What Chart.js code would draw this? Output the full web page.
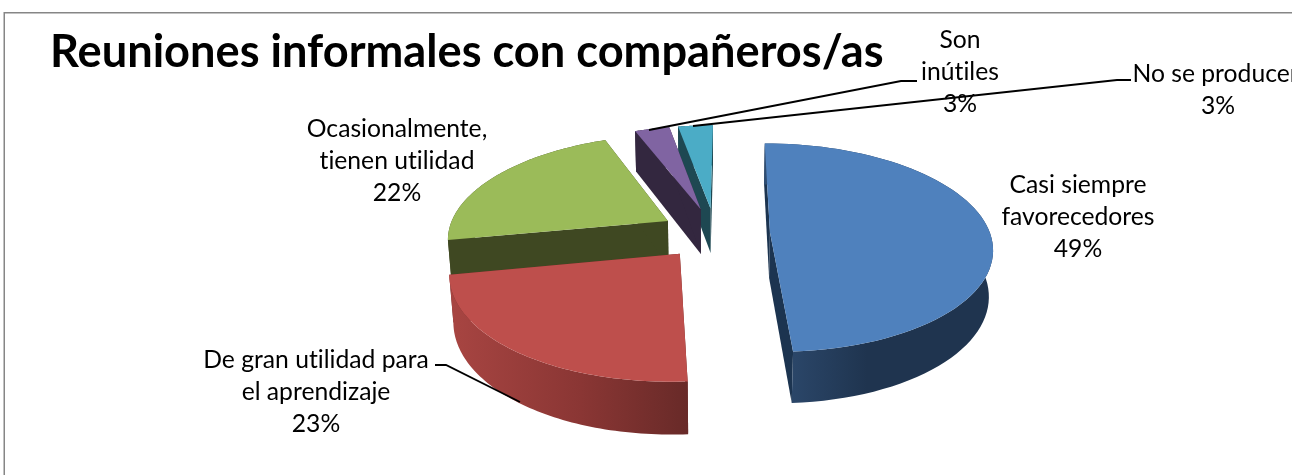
<!DOCTYPE html>
<html>
<head>
<meta charset="utf-8">
<script src="https://cdn.jsdelivr.net/npm/chart.js@4/dist/chart.umd.js"></script>
<style>
html,body{margin:0;padding:0;background:#fff;overflow:hidden}
#wrap{width:1292px;height:475px;position:relative}
</style>
</head>
<body>
<div id="wrap"><canvas id="c" width="1292" height="475"></canvas></div>
<script>
const titleText = 'Reuniones informales con compañeros/as';
const categories = ['Casi siempre favorecedores','De gran utilidad para el aprendizaje','Ocasionalmente, tienen utilidad','Son inútiles','No se producen'];
const values = [49, 23, 22, 3, 3];
const labelLines = [['Casi siempre','favorecedores'],['De gran utilidad para','el aprendizaje'],['Ocasionalmente,','tienen utilidad'],['Son','inútiles'],['No se producen']];
const topColors = ['#4F81BD','#BE4F4C','#9BBB59','#8064A2','#4BACC6'];
const sideColors = ['#1C3450','#6A2A28','#3F4822','#33273F','#1E4852'];
const wallStops = [
  [[0,'#2F4D72'],[0.45,'#1F344F'],[1,'#1F344F']],
  [[0,'#A84542'],[0.55,'#8A3634'],[1,'#682A28']],
  [[0,'#3F4822'],[1,'#3F4822']],
  [[0,'#33273F'],[1,'#33273F']],
  [[0,'#1E4852'],[1,'#1E4852']]
];
const explode = [0.25, 0.25, 0.25, 0.25, 0.25];
const drawOrder = [4, 3, 2, 0, 1];

// perspective view of the pie's plane
const view = {a:220, b:-108, c:715, d:67.7, f:233, g:-0.148, depth:50, q:0.015};
function project(u, v, z){
  const w = 1 + view.g*v + view.q*z;
  return [(view.a*u + view.b*v + view.c + view.q*z*view.c)/w, (view.d*v + view.f + view.depth*z)/w];
}

const labelPlaces = [
  {x:1078, y:185, lh:32},
  {x:316,  y:360, lh:32},
  {x:397,  y:129, lh:32},
  {x:960,  y:40,  lh:32},
  {x:1218, y:74,  lh:32}
];
const leaderLines = [
  null,
  [[435,365],[446,365],[520,402]],
  null,
  [[649,130],[901,81],[917,81]],
  [[693,126],[1117,80],[1131,80]]
];

const pie3d = {
  id:'pie3d',
  beforeDraw(chart){
    const ctx = chart.ctx;
    ctx.save();
    ctx.strokeStyle = '#868686';
    ctx.lineWidth = 1.5;
    ctx.beginPath();
    ctx.moveTo(4.25,475); ctx.lineTo(4.25,12.75); ctx.lineTo(1292,12.75);
    ctx.stroke();
    ctx.restore();
  },
  beforeDatasetsDraw(chart){
    const ctx = chart.ctx;
    const arcs = chart.getDatasetMeta(0).data;
    drawOrder.forEach(i => {
      const arc = arcs[i];
      const s = arc.startAngle, e = arc.endAngle, m = (s+e)/2;
      const ox = explode[i]*Math.cos(m), oy = explode[i]*Math.sin(m);
      const rim = z => {
        const pts = [];
        const n = 72;
        for(let k=0;k<=n;k++){
          const t = s + (e-s)*k/n;
          pts.push(project(ox + Math.cos(t), oy + Math.sin(t), z));
        }
        return pts;
      };
      const apex = z => project(ox, oy, z);
      const poly = (pts, fill) => {
        ctx.beginPath();
        pts.forEach((p,k)=> k ? ctx.lineTo(p[0],p[1]) : ctx.moveTo(p[0],p[1]));
        ctx.closePath();
        ctx.fillStyle = fill;
        ctx.fill();
      };
      const top = rim(0), bot = rim(1);
      // radial faces
      poly([apex(0), top[0], bot[0], apex(1)], sideColors[i]);
      poly([apex(0), top[top.length-1], bot[bot.length-1], apex(1)], sideColors[i]);
      // outer wall
      const xs = bot.map(p=>p[0]).concat(top.map(p=>p[0]));
      const g = ctx.createLinearGradient(Math.min(...xs),0,Math.max(...xs),0);
      wallStops[i].forEach(st=>g.addColorStop(st[0],st[1]));
      poly(top.concat(bot.slice().reverse()), g);
      // top face
      poly([apex(0)].concat(top), topColors[i]);
    });
    return false;
  },
  afterDraw(chart){
    const ctx = chart.ctx;
    ctx.save();
    ctx.strokeStyle = '#000';
    ctx.lineWidth = 1.8;
    leaderLines.forEach(l=>{
      if(!l) return;
      ctx.beginPath();
      l.forEach((p,k)=> k ? ctx.lineTo(p[0],p[1]) : ctx.moveTo(p[0],p[1]));
      ctx.stroke();
    });
    ctx.fillStyle = '#000';
    ctx.font = '24.7px Lato';
    ctx.textRendering = 'optimizeSpeed';
    ctx.textAlign = 'center';
    ctx.textBaseline = 'middle';
    labelLines.forEach((lines,i)=>{
      const p = labelPlaces[i];
      const all = lines.concat([values[i]+'%']);
      all.forEach((t,k)=> ctx.fillText(t, p.x, p.y + k*p.lh));
    });
    ctx.restore();
  }
};

new Chart(document.getElementById('c'), {
  type:'pie',
  data:{labels:categories, datasets:[{data:values, backgroundColor:topColors, borderWidth:0}]},
  options:{
    responsive:false,
    animation:false,
    layout:{padding:{left:50,top:25}},
    plugins:{
      legend:{display:false},
      tooltip:{enabled:false},
      title:{display:true, text:titleText, align:'start', color:'#000',
             font:{family:'Lato', size:45.2, weight:'bold'}, padding:{top:0,bottom:0}}
    }
  },
  plugins:[pie3d]
});
</script>
</body>
</html>
